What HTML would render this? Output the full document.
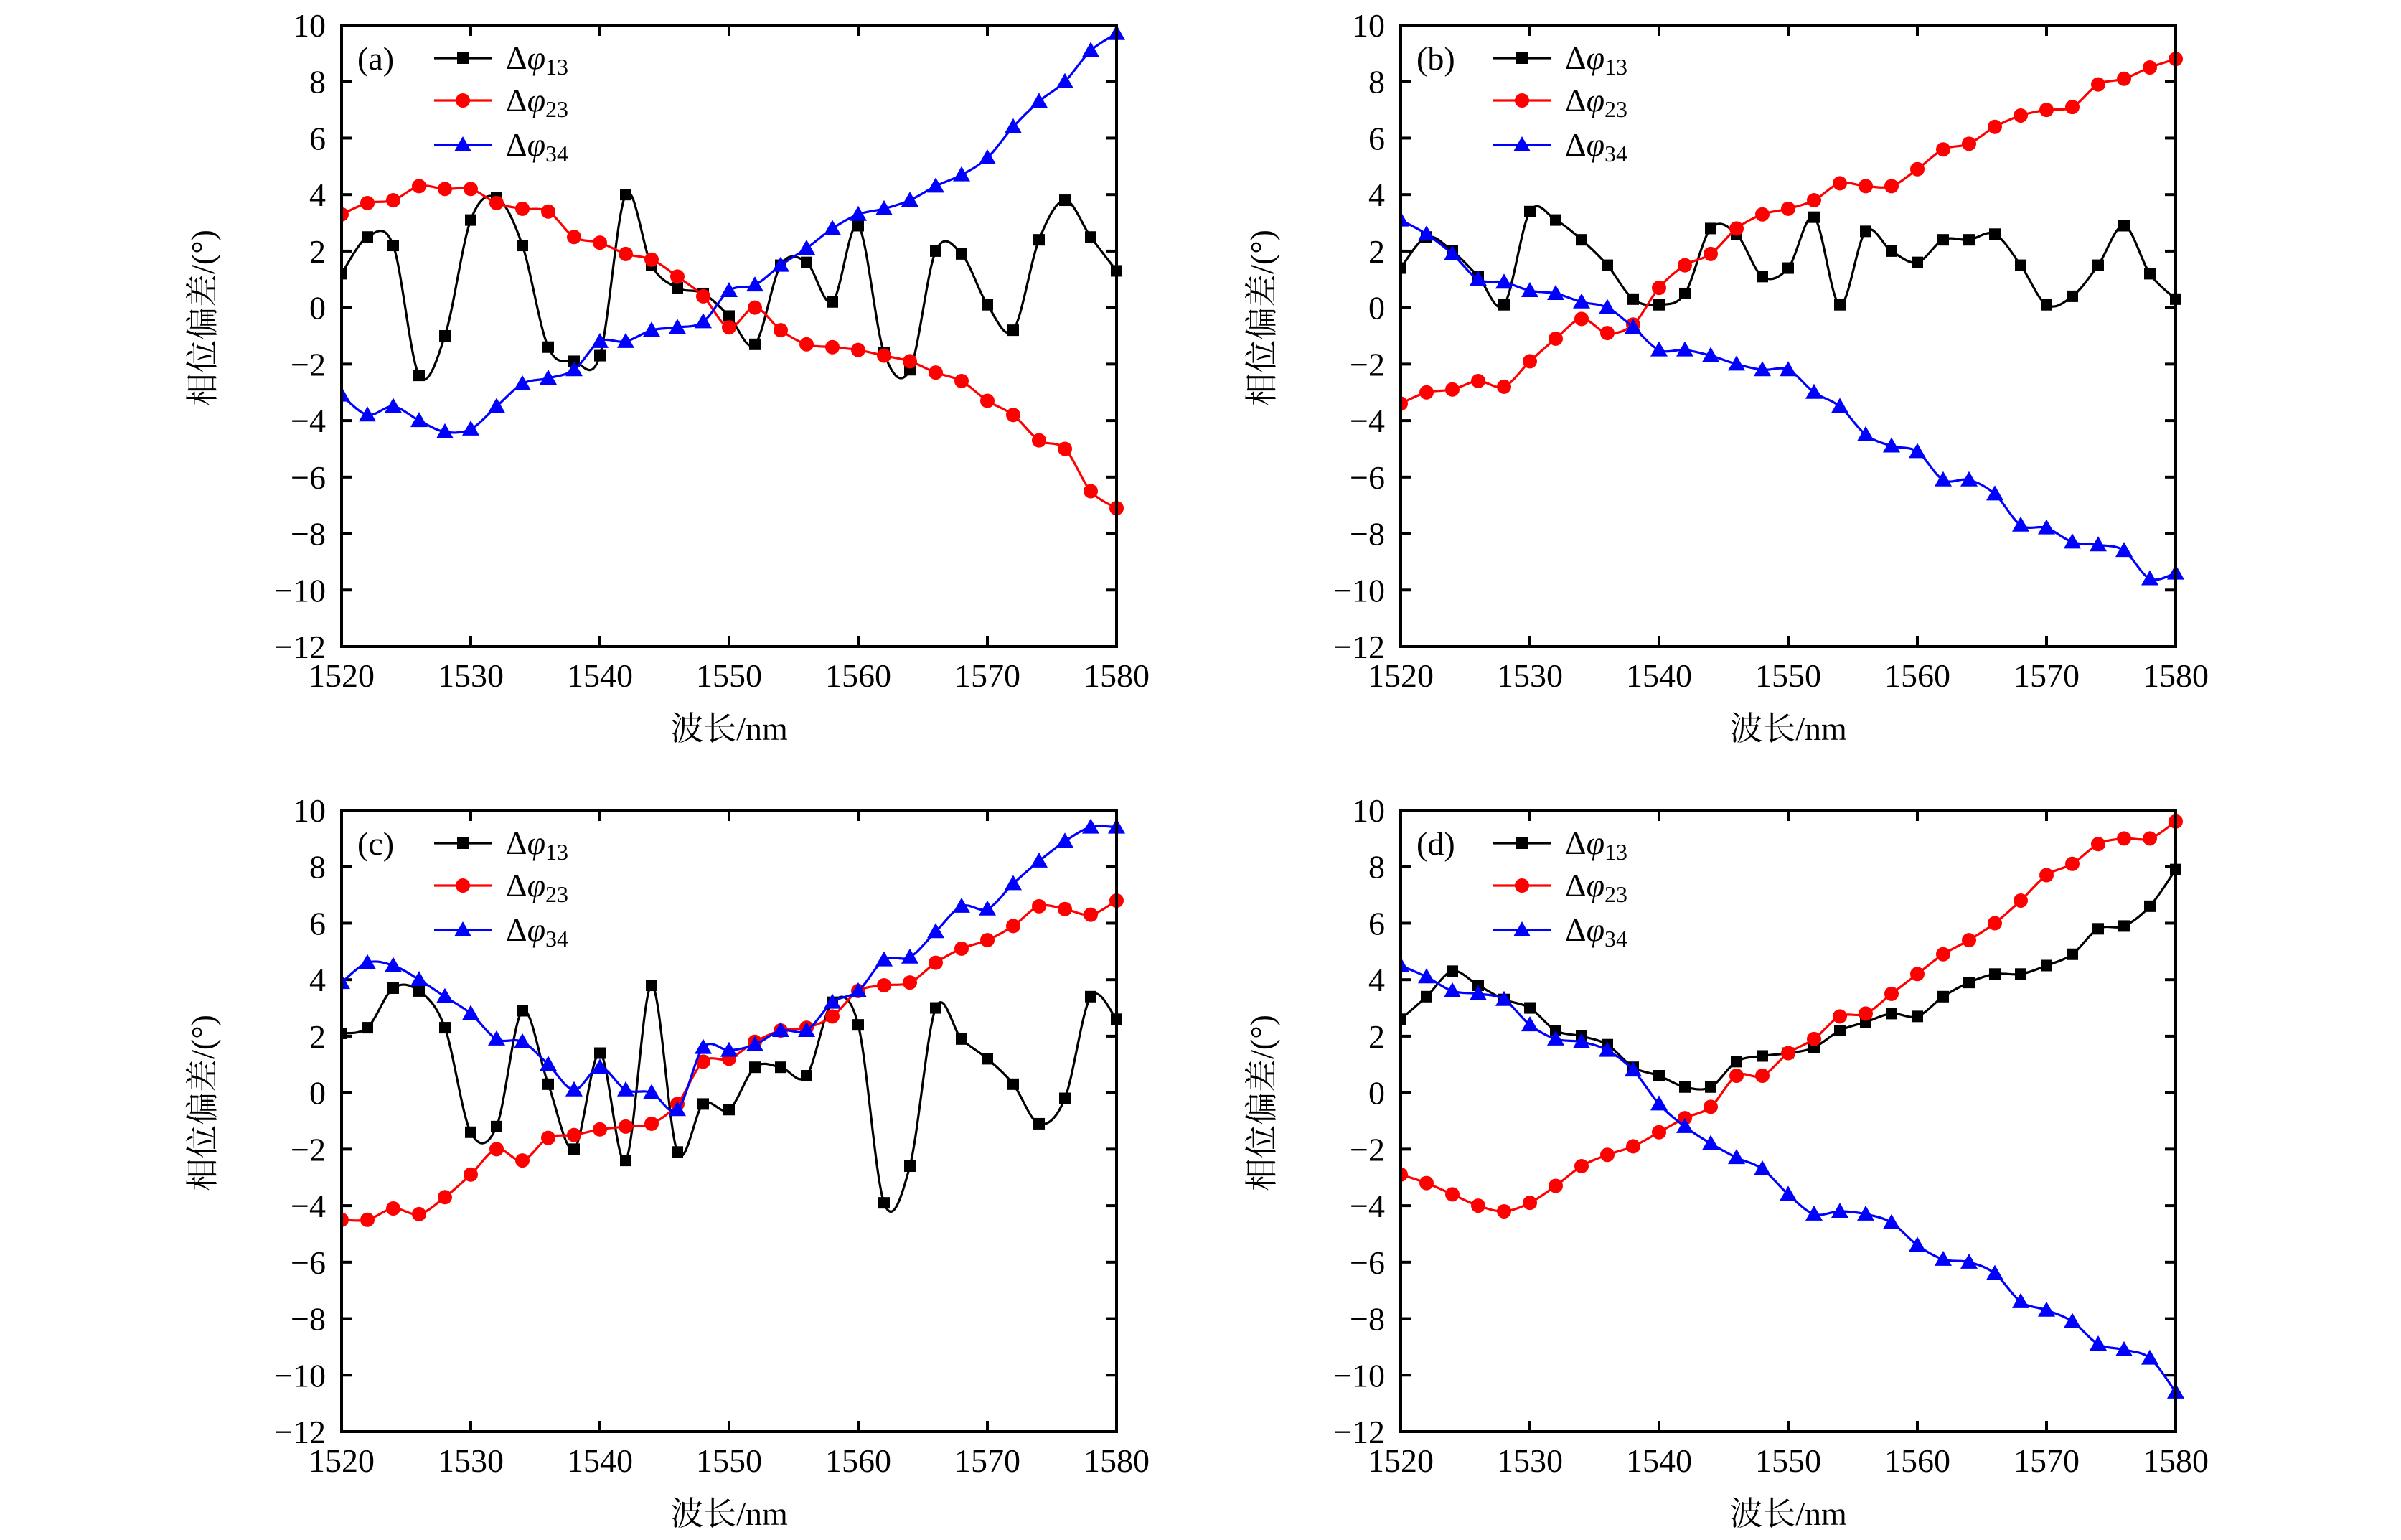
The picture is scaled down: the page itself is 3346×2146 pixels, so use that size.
<!DOCTYPE html>
<html><head><meta charset="utf-8"><style>
html,body{margin:0;padding:0;background:#fff;}
svg{display:block;}
text{font-family:"Liberation Serif","Noto Serif CJK SC",serif;fill:#000;}
</style></head><body>
<svg id="s" xmlns="http://www.w3.org/2000/svg" width="3346" height="2146" viewBox="0 0 3346 2146"></svg>
<script>
const S=document.getElementById('s');
let out='';
const panels=[
 {x0:476,y0:35,lab:'(a)',
  k:[1.2,2.5,2.2,-2.4,-1.0,3.1,3.9,2.2,-1.4,-1.9,-1.7,4.0,1.5,0.7,0.5,-0.3,-1.3,1.5,1.6,0.2,2.9,-1.6,-2.2,2.0,1.9,0.1,-0.8,2.4,3.8,2.5,1.3],
  r:[3.3,3.7,3.8,4.3,4.2,4.2,3.7,3.5,3.4,2.5,2.3,1.9,1.7,1.1,0.4,-0.7,0,-0.8,-1.3,-1.4,-1.5,-1.7,-1.9,-2.3,-2.6,-3.3,-3.8,-4.7,-5.0,-6.5,-7.1],
  b:[-3.1,-3.8,-3.5,-4.0,-4.4,-4.3,-3.5,-2.7,-2.5,-2.2,-1.2,-1.2,-0.8,-0.7,-0.5,0.6,0.8,1.5,2.1,2.8,3.3,3.5,3.8,4.3,4.7,5.3,6.4,7.3,8.0,9.1,9.7]},
 {x0:1952,y0:35,lab:'(b)',
  k:[1.4,2.5,2.0,1.1,0.1,3.4,3.1,2.4,1.5,0.3,0.1,0.5,2.8,2.6,1.1,1.4,3.2,0.1,2.7,2.0,1.6,2.4,2.4,2.6,1.5,0.1,0.4,1.5,2.9,1.2,0.3],
  r:[-3.4,-3.0,-2.9,-2.6,-2.8,-1.9,-1.1,-0.4,-0.9,-0.6,0.7,1.5,1.9,2.8,3.3,3.5,3.8,4.4,4.3,4.3,4.9,5.6,5.8,6.4,6.8,7.0,7.1,7.9,8.1,8.5,8.8],
  b:[3.1,2.6,1.9,1.0,0.9,0.6,0.5,0.2,0.0,-0.7,-1.5,-1.5,-1.7,-2.0,-2.2,-2.2,-3.0,-3.5,-4.5,-4.9,-5.1,-6.1,-6.1,-6.6,-7.7,-7.8,-8.3,-8.4,-8.6,-9.6,-9.4]},
 {x0:476,y0:1129,lab:'(c)',
  k:[2.1,2.3,3.7,3.6,2.3,-1.4,-1.2,2.9,0.3,-2.0,1.4,-2.4,3.8,-2.1,-0.4,-0.6,0.9,0.9,0.6,3.2,2.4,-3.9,-2.6,3.0,1.9,1.2,0.3,-1.1,-0.2,3.4,2.6],
  r:[-4.5,-4.5,-4.1,-4.3,-3.7,-2.9,-2.0,-2.4,-1.6,-1.5,-1.3,-1.2,-1.1,-0.4,1.1,1.2,1.8,2.2,2.3,2.7,3.6,3.8,3.9,4.6,5.1,5.4,5.9,6.6,6.5,6.3,6.8],
  b:[3.9,4.6,4.5,4.0,3.4,2.8,1.9,1.8,1.0,0.1,0.9,0.1,0.0,-0.6,1.6,1.5,1.7,2.2,2.2,3.2,3.6,4.7,4.8,5.7,6.6,6.5,7.4,8.2,8.9,9.4,9.4]},
 {x0:1952,y0:1129,lab:'(d)',
  k:[2.6,3.4,4.3,3.8,3.3,3.0,2.2,2.0,1.7,0.9,0.6,0.2,0.2,1.1,1.3,1.4,1.6,2.2,2.5,2.8,2.7,3.4,3.9,4.2,4.2,4.5,4.9,5.8,5.9,6.6,7.9],
  r:[-2.9,-3.2,-3.6,-4.0,-4.2,-3.9,-3.3,-2.6,-2.2,-1.9,-1.4,-0.9,-0.5,0.6,0.6,1.4,1.9,2.7,2.8,3.5,4.2,4.9,5.4,6.0,6.8,7.7,8.1,8.8,9.0,9.0,9.6],
  b:[4.5,4.1,3.6,3.5,3.3,2.4,1.9,1.8,1.5,0.8,-0.4,-1.2,-1.8,-2.3,-2.7,-3.6,-4.3,-4.2,-4.3,-4.6,-5.4,-5.9,-6.0,-6.4,-7.4,-7.7,-8.1,-8.9,-9.1,-9.4,-10.6]}
];
const W=1080,H=866;
function sq(x,y,c){return `<rect x="${x-8}" y="${y-8}" width="16" height="16" fill="${c}"/>`;}
function ci(x,y,c){return `<circle cx="${x}" cy="${y}" r="10" fill="${c}"/>`;}
function tr(x,y,c){return `<polygon points="${x},${y-12} ${x-12},${y+9} ${x+12},${y+9}" fill="${c}"/>`;}
function spline(p){let d=`M${p[0][0]},${p[0][1]}`;for(let i=0;i<p.length-1;i++){const a=p[Math.max(0,i-1)],b=p[i],c=p[i+1],e=p[Math.min(p.length-1,i+2)];
 d+=` C${b[0]+(c[0]-a[0])/6},${b[1]+(c[1]-a[1])/6} ${c[0]-(e[0]-b[0])/6},${c[1]-(e[1]-b[1])/6} ${c[0]},${c[1]}`;}return d;}
for(const P of panels){
 const X=w=>P.x0+(w-1520)*W/60, Y=v=>P.y0+(10-v)*H/22;
 out+=`<defs><clipPath id="c${P.lab[1]}"><rect x="${P.x0}" y="${P.y0-14}" width="${W+14}" height="${H+28}"/></clipPath></defs>`;
 for(let v=-12;v<=10;v+=2){const y=Y(v);out+=`<line x1="${P.x0}" y1="${y}" x2="${P.x0+15}" y2="${y}" stroke="#000" stroke-width="4"/><line x1="${P.x0+W}" y1="${y}" x2="${P.x0+W-15}" y2="${y}" stroke="#000" stroke-width="4"/>`;
  out+=`<text x="${P.x0-22}" y="${y+16}" font-size="46" text-anchor="end">${v<0?'\u2212'+(-v):v}</text>`;}
 for(let w=1520;w<=1580;w+=10){const x=X(w);out+=`<line x1="${x}" y1="${P.y0+H}" x2="${x}" y2="${P.y0+H-15}" stroke="#000" stroke-width="4"/><line x1="${x}" y1="${P.y0}" x2="${x}" y2="${P.y0+15}" stroke="#000" stroke-width="4"/>`;
  out+=`<text x="${x}" y="${P.y0+H+56}" font-size="46" text-anchor="middle">${w}</text>`;}
 out+=`<text x="${P.x0+W/2}" y="${P.y0+H+130}" font-size="46" text-anchor="middle">波长/nm</text>`;
 const cy=P.y0+408;
 out+=`<text transform="translate(${P.x0-178},${cy}) rotate(-90)" x="0" y="0" font-size="46" text-anchor="middle">相位偏差/(°)</text>`;
 const ser=[['k','#000',sq],['r','#f00',ci],['b','#00f',tr]];
 out+=`<g clip-path="url(#c${P.lab[1]})">`;
 for(const [key,col,mk] of ser){const pts=P[key].map((v,i)=>[X(1520+2*i),Y(v)]);
  out+=`<path d="${spline(pts)}" fill="none" stroke="${col}" stroke-width="3.2"/>`;
  for(const q of pts) out+=mk(q[0],q[1],col);}
 out+=`</g>`;
 out+=`<rect x="${P.x0}" y="${P.y0}" width="${W}" height="${H}" fill="none" stroke="#000" stroke-width="4"/>`;
 out+=`<text x="${P.x0+22}" y="${P.y0+62}" font-size="46">${P.lab}</text>`;
 const rows=[46,105,167],subs=['13','23','34'];
 ser.forEach(([key,col,mk],i)=>{const y=P.y0+rows[i];
  out+=`<line x1="${P.x0+129}" y1="${y}" x2="${P.x0+209}" y2="${y}" stroke="${col}" stroke-width="3.2"/>`+mk(P.x0+169,y,col);
  out+=`<text x="${P.x0+229}" y="${y+15}" font-size="46">Δ<tspan font-style="italic">φ</tspan><tspan font-size="32" dy="8">${subs[i]}</tspan></text>`;});
}
S.innerHTML=out;
</script>
</body></html>
